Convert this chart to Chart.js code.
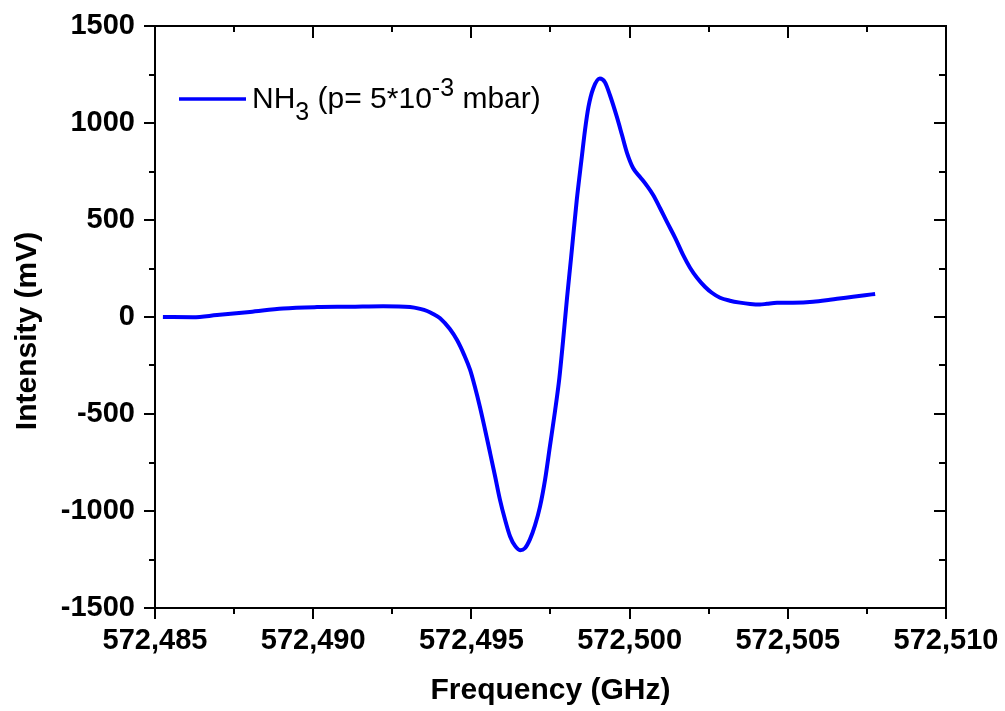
<!DOCTYPE html>
<html>
<head>
<meta charset="utf-8">
<title>NH3 line</title>
<script src="https://cdn.jsdelivr.net/npm/chart.js@4.4.0/dist/chart.umd.min.js"></script>
<style>
  html, body { margin: 0; padding: 0; background: #fff; }
</style>
</head>
<body>
<canvas id="mychart" width="1005" height="711"></canvas>
<script>
// trace: frequency (GHz) and detector signal (mV)
const freq = [
  572.48525, 572.48620, 572.48696, 572.48800, 572.48905, 572.49012, 572.49116, 572.49221, 572.49306, 572.49338,
  572.49360, 572.49379, 572.49401, 572.49432, 572.49455, 572.49477, 572.49496, 572.49511, 572.49527, 572.49543,
  572.49559, 572.49575, 572.49590, 572.49606, 572.49622, 572.49638, 572.49654, 572.49669, 572.49685, 572.49701,
  572.49717, 572.49733, 572.49748, 572.49764, 572.49778, 572.49790, 572.49802, 572.49815, 572.49833, 572.49849,
  572.49859, 572.49870, 572.49885, 572.49906, 572.49922, 572.49938, 572.49960, 572.49976, 572.49992, 572.50011,
  572.50033, 572.50055, 572.50074, 572.50096, 572.50118, 572.50144, 572.50169, 572.50191, 572.50213, 572.50238,
  572.50260, 572.50286, 572.50317, 572.50349, 572.50381, 572.50412, 572.50434, 572.50466, 572.50516, 572.50580,
  572.50633, 572.50656, 572.50706, 572.50744, 572.50776
];
const intensity = [
  0, -1, 10, 26, 44, 51, 53, 56, 52, 42,
  31, 16, -6, -62, -120, -195, -273, -360, -464, -580,
  -700, -822, -940, -1043, -1130, -1180, -1202, -1192, -1146, -1074,
  -976, -837, -668, -488, -314, -117, 94, 305, 603, 826,
  963, 1083, 1178, 1229, 1210, 1143, 1030, 938, 845, 768,
  722, 676, 630, 562, 490, 408, 320, 254, 202, 156,
  125, 99, 84, 74, 67, 64, 68, 73, 74, 79,
  89, 94, 104, 112, 119
];

const xTicks = [572.485, 572.490, 572.495, 572.500, 572.505, 572.510];
const yTicks = [-1500, -1000, -500, 0, 500, 1000, 1500];

const xTitle = 'Frequency (GHz)';
const yTitle = 'Intensity (mV)';
// legend text in pieces: normal, subscript, superscript
const legendParts = [
  { t: 'NH', k: 'n' },
  { t: '3', k: 'sub' },
  { t: ' (p= 5*10', k: 'n' },
  { t: '-3', k: 'sup' },
  { t: ' mbar)', k: 'n' }
];

const fontFam = '"Liberation Sans", Arial, Helvetica, sans-serif';

// box around the plot, ticks out on bottom/left, in on top/right
const frame = {
  id: 'frame',
  afterDatasetsDraw(chart) {
    const { ctx, chartArea: a, scales: { x, y } } = chart;
    ctx.save();
    ctx.strokeStyle = '#000';
    ctx.lineWidth = 2;
    ctx.strokeRect(a.left, a.top, a.right - a.left, a.bottom - a.top);
    const seg = (x1, y1, x2, y2) => {
      ctx.beginPath(); ctx.moveTo(x1, y1); ctx.lineTo(x2, y2); ctx.stroke();
    };
    xTicks.forEach((v, i) => {
      const px = Math.round(x.getPixelForValue(v));
      seg(px, a.bottom, px, a.bottom + 11);
      seg(px, a.top, px, a.top + 12);
      if (i < xTicks.length - 1) {
        const pm = Math.round(x.getPixelForValue((v + xTicks[i + 1]) / 2));
        seg(pm, a.bottom, pm, a.bottom + 6);
        seg(pm, a.top, pm, a.top + 6);
      }
    });
    yTicks.forEach((v, i) => {
      const py = Math.round(y.getPixelForValue(v));
      seg(a.left, py, a.left - 11, py);
      seg(a.right, py, a.right - 12, py);
      if (i < yTicks.length - 1) {
        const pm = Math.round(y.getPixelForValue((v + yTicks[i + 1]) / 2));
        seg(a.left, pm, a.left - 6, pm);
        seg(a.right, pm, a.right - 7, pm);
      }
    });
    ctx.restore();
  }
};

// legend with sub/superscript and the rotated y title
const extras = {
  id: 'extras',
  afterDraw(chart) {
    const { ctx, chartArea: a } = chart;
    const ds = chart.data.datasets[0];
    ctx.save();
    const lx = a.left + 24, ly = a.top + 73;
    ctx.strokeStyle = ds.borderColor;
    ctx.lineWidth = 3.5;
    ctx.beginPath(); ctx.moveTo(lx, ly); ctx.lineTo(lx + 67, ly); ctx.stroke();

    ctx.fillStyle = '#000';
    ctx.textBaseline = 'alphabetic';
    ctx.textAlign = 'left';
    let tx = lx + 73;
    const base = ly + 9;
    legendParts.forEach(p => {
      const size = p.k === 'n' ? 30 : 25;
      ctx.font = size + 'px ' + fontFam;
      const dy = p.k === 'sub' ? 12 : (p.k === 'sup' ? -12 : 0);
      ctx.fillText(p.t, tx, base + dy);
      tx += ctx.measureText(p.t).width;
    });

    ctx.translate(28, (a.top + a.bottom) / 2 + 14);
    ctx.rotate(-Math.PI / 2);
    ctx.font = 'bold 30px ' + fontFam;
    ctx.textAlign = 'center';
    ctx.textBaseline = 'middle';
    ctx.fillText(yTitle, 0, 0);
    ctx.restore();
  }
};

const points = freq.map((f, i) => ({ x: f, y: intensity[i] }));
const tickFont = { family: fontFam, size: 29, weight: 'bold' };

const options = {
  type: 'line',
  data: {
    datasets: [{
      label: 'NH3',
      data: points,
      borderColor: '#0000ff',
      borderWidth: 4,
      pointRadius: 0,
      fill: false,
      cubicInterpolationMode: 'monotone'
    }]
  },
  options: {
    responsive: false,
    animation: false,
    layout: { padding: { top: 26, right: 59, left: 0, bottom: 0 } },
    plugins: { legend: { display: false }, tooltip: { enabled: false } },
    scales: {
      x: {
        type: 'linear',
        min: xTicks[0],
        max: xTicks[xTicks.length - 1],
        afterBuildTicks: s => { s.ticks = xTicks.map(v => ({ value: v })); },
        afterFit: s => {
          s.height = 103;
          s.paddingLeft = 0; s.paddingRight = 0;
        },
        grid: { display: false, drawTicks: false },
        border: { display: false },
        ticks: {
          padding: 16, color: '#000', font: tickFont, maxRotation: 0, autoSkip: false,
          callback: v => v.toFixed(3).replace('.', ',')
        },
        title: {
          display: true, text: xTitle, color: '#000',
          font: { family: fontFam, size: 30, weight: 'bold' },
          padding: { top: 0, bottom: 2 }
        }
      },
      y: {
        type: 'linear',
        min: yTicks[0],
        max: yTicks[yTicks.length - 1],
        afterBuildTicks: s => { s.ticks = yTicks.map(v => ({ value: v })); },
        afterFit: s => {
          s.width = 155;
          s.paddingTop = 0; s.paddingBottom = 0;
        },
        grid: { display: false, drawTicks: false },
        border: { display: false },
        ticks: {
          padding: 20, color: '#000', font: tickFont, autoSkip: false,
          callback: v => String(v)
        }
      }
    }
  },
  plugins: [frame, extras]
};

const ctx = document.getElementById('mychart').getContext('2d');
const chart = new Chart(ctx, options);
</script>
</body>
</html>
